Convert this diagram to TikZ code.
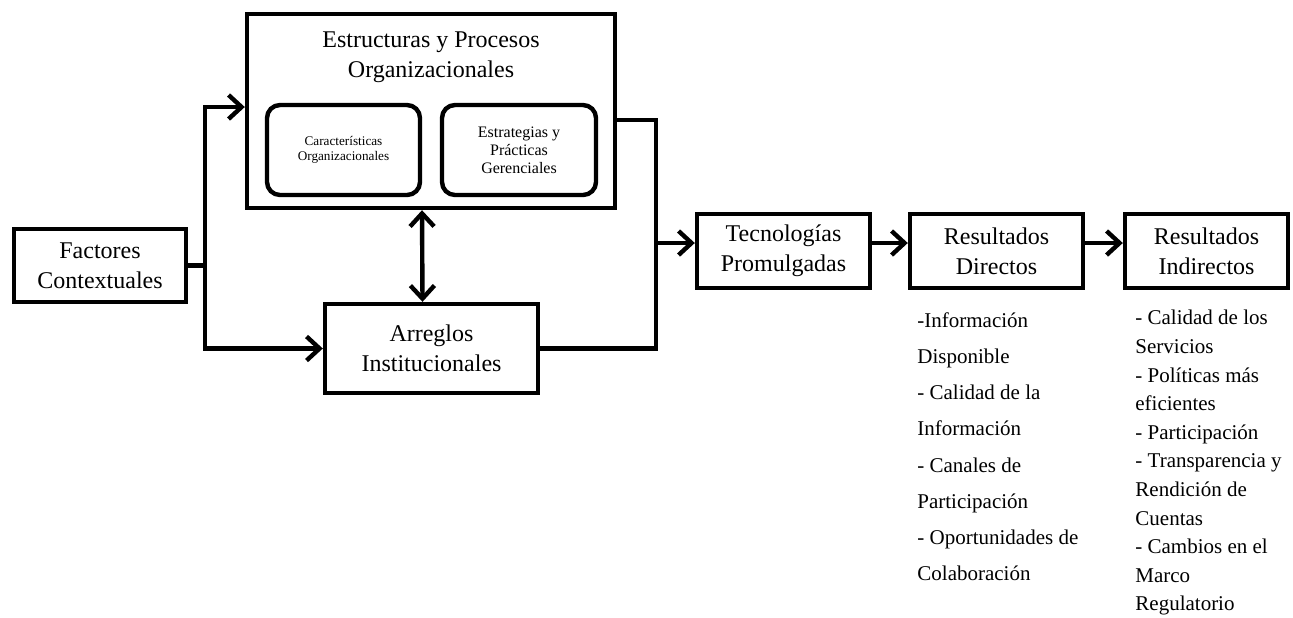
\documentclass[tikz,border=0pt]{standalone}
\usepackage{fontspec}
\setmainfont{Liberation Serif}
\usetikzlibrary{arrows.meta,positioning}

\tikzset{
  box/.style={draw, line width=2.2pt, align=center, inner sep=0pt,
    font=\fontsize{12}{14.8}\selectfont},
  inbox/.style={draw, line width=2.2pt, rounded corners=6.5pt, align=center, inner sep=0pt},
  link/.style={line width=2.2pt, -{Straight Barb[length=6.5pt,width=12pt]}},
  twoway/.style={line width=2.2pt, {Straight Barb[length=6.5pt,width=12pt]}-{Straight Barb[length=6.5pt,width=12pt]}},
  wire/.style={line width=2.2pt},
  list/.style={align=left, anchor=north west, inner sep=0pt}
}

\begin{document}
\begin{tikzpicture}[x=0.5pt,y=-0.5pt]
\useasboundingbox (0,0) rectangle (1293,617);

% boxes
\node[box, minimum width=86pt, minimum height=36.5pt] (fact) at (100,265.5) {Factores\\Contextuales};
\node[box, minimum width=184pt, minimum height=97pt] (estr) at (431,111) {};
\node[align=center, font=\fontsize{12}{14.8}\selectfont] (estrtitle) at (431,57.5) {Estructuras y Procesos\\Organizacionales};
\node[inbox, minimum width=76.5pt, minimum height=45pt, font=\fontsize{6.6}{7.6}\selectfont] (carac) at (343.5,150) {Características\\Organizacionales};
\node[inbox, minimum width=77pt, minimum height=45pt, font=\fontsize{8}{9}\selectfont] (estrat) at (519,150) {Estrategias y\\Prácticas\\Gerenciales};
\node[box, minimum width=106.5pt, minimum height=44.5pt] (arreg) at (431.5,348.5) {Arreglos\\Institucionales};
\node[box, minimum width=86.5pt, minimum height=37pt] (tecno) at (783.5,251) {Tecnologías\\Promulgadas};
\node[box, minimum width=86.5pt, minimum height=37pt] (rdir) at (996.5,251) {Resultados\\Directos};
\node[box, minimum width=81.5pt, minimum height=37pt] (rind) at (1206.5,251) {Resultados\\Indirectos};

% connectors
\draw[wire] (fact.east) -- ++(17,0) coordinate (split);
\draw[link] (split) |- ([yshift=2pt]estr.west);
\draw[link] (split) |- (arreg.west);
\draw[twoway] ([xshift=-4.5pt]estr.south) -- ([xshift=-4.5pt]arreg.north);
\coordinate (merge) at (656,243);
\draw[wire] ([yshift=-4.5pt]estr.east) -| (merge);
\draw[wire] (arreg.east) -| (merge);
\draw[link] (merge) -- (merge -| tecno.west);
\draw[link] ([yshift=4pt]tecno.east) -- ([yshift=4pt]rdir.west);
\draw[link] ([yshift=4pt]rdir.east) -- ([yshift=4pt]rind.west);

% outcome lists
\node[list, font=\fontsize{10.5}{18.1}\selectfont] (dirlist) at (917,312) {-Información\\Disponible\\- Calidad de la\\Información\\- Canales de\\Participación\\- Oportunidades de\\Colaboración};
\node[list, font=\fontsize{10.5}{14.3}\selectfont] (indlist) at (1135,310) {- Calidad de los\\Servicios\\- Políticas más\\eficientes\\- Participación\\- Transparencia y\\Rendición de\\Cuentas\\- Cambios en el\\Marco\\Regulatorio};
\end{tikzpicture}
\end{document}
